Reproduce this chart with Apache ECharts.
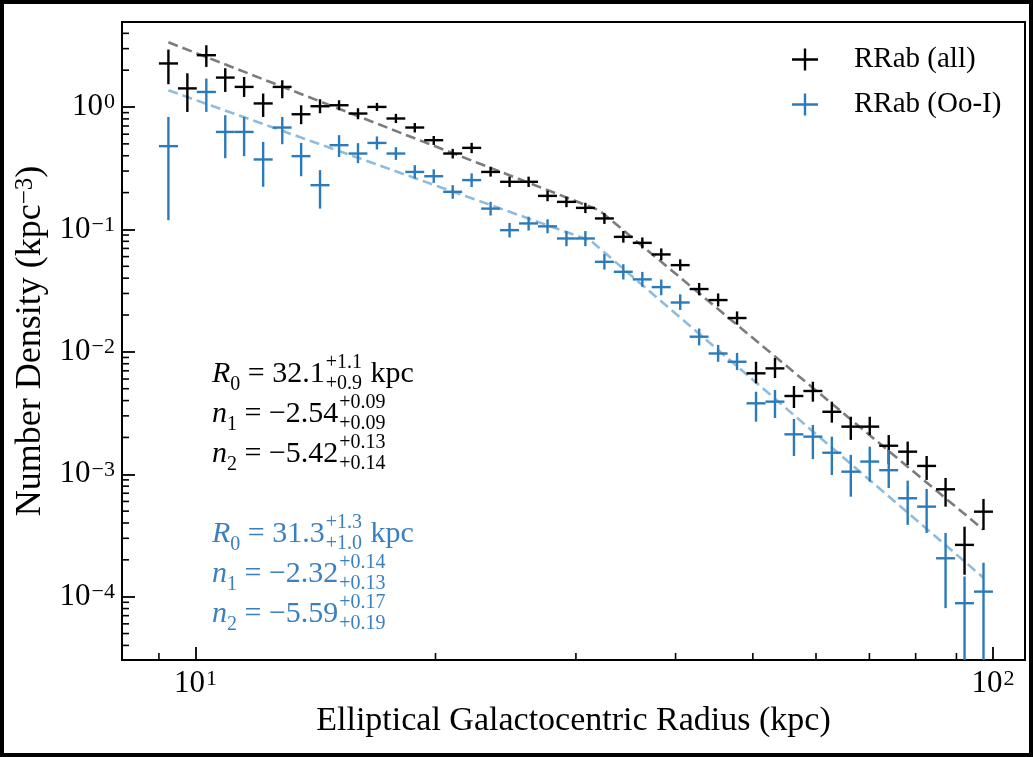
<!DOCTYPE html>
<html><head><meta charset="utf-8">
<script src="https://cdn.jsdelivr.net/npm/echarts@6/dist/echarts.min.js"></script>
<style>html,body{margin:0;padding:0;background:#000;}#c{width:1033px;height:757px;}</style>
</head><body><div id="c"></div>
<script>
// ---------------- data ----------------
const radius = [9.25, 9.77, 10.32, 10.90, 11.51, 12.16, 12.85, 13.57, 14.33, 15.14, 15.99, 16.89, 17.84, 18.84, 19.90, 21.02, 22.20, 23.45, 24.77, 26.17, 27.64, 29.19, 30.83, 32.57, 34.40, 36.34, 38.38, 40.54, 42.82, 45.23, 47.77, 50.46, 53.30, 56.30, 59.46, 62.81, 66.34, 70.07, 74.02, 78.18, 82.58, 87.22, 92.13, 97.31];
const binEdges = [9.00, 9.51, 10.04, 10.61, 11.20, 11.83, 12.50, 13.20, 13.94, 14.73, 15.56, 16.43, 17.36, 18.33, 19.36, 20.45, 21.60, 22.82, 24.10, 25.46, 26.89, 28.40, 30.00, 31.69, 33.47, 35.35, 37.34, 39.44, 41.66, 44.00, 46.48, 49.09, 51.86, 54.77, 57.85, 61.11, 64.55, 68.18, 72.01, 76.06, 80.34, 84.86, 89.63, 94.67, 100.0];
const allDensity = [2.27, 1.42, 2.65, 1.74, 1.46, 1.07, 1.46, 0.873, 1.015, 1.034, 0.885, 1.002, 0.806, 0.680, 0.536, 0.417, 0.464, 0.295, 0.245, 0.245, 0.188, 0.168, 0.150, 0.123, 0.0870, 0.0777, 0.0625, 0.0511, 0.0326, 0.0265, 0.0189, 0.00668, 0.00733, 0.00436, 0.00479, 0.00324, 0.00245, 0.00245, 0.00171, 0.00153, 0.00117, 0.000754, 0.000265, 0.000495];
const allLow = [1.535, 0.912, 2.125, 1.328, 1.209, 0.830, 1.180, 0.724, 0.890, 0.942, 0.795, 0.93, 0.74, 0.62, 0.49, 0.38, 0.42, 0.27, 0.222, 0.222, 0.17, 0.152, 0.136, 0.111, 0.078, 0.070, 0.056, 0.046, 0.029, 0.0235, 0.0167, 0.00553, 0.00611, 0.00348, 0.00392, 0.00264, 0.00191, 0.00209, 0.00121, 0.00119, 0.000899, 0.000544, 0.000151, 0.000351];
const allHigh = [2.948, 1.887, 3.195, 2.074, 1.761, 1.289, 1.655, 1.034, 1.158, 1.136, 0.978, 1.08, 0.88, 0.74, 0.58, 0.455, 0.51, 0.325, 0.27, 0.27, 0.207, 0.185, 0.165, 0.136, 0.097, 0.086, 0.070, 0.057, 0.0365, 0.030, 0.0214, 0.0083, 0.0089, 0.00526, 0.0057, 0.00392, 0.00295, 0.00295, 0.00209, 0.00185, 0.00141, 0.000933, 0.000373, 0.000629];
const ooDensity = [0.479, null, 1.328, 0.626, 0.626, 0.373, 0.680, 0.397, 0.230, 0.488, 0.417, 0.509, 0.417, 0.295, 0.272, 0.203, 0.253, 0.148, 0.0987, 0.112, 0.106, 0.0844, 0.0844, 0.0544, 0.0451, 0.0391, 0.0338, 0.0253, 0.0133, 0.0097, 0.0083, 0.0038, 0.00392, 0.00212, 0.00203, 0.0015, 0.00105, 0.00127, 0.00108, 0.000637, 0.000544, 0.000206, 0.0000885, 0.00011];
const ooLow = [0.119, null, 0.912, 0.382, 0.397, 0.223, 0.497, 0.272, 0.148, 0.391, 0.348, 0.45, 0.37, 0.26, 0.24, 0.178, 0.222, 0.13, 0.086, 0.098, 0.093, 0.073, 0.073, 0.047, 0.039, 0.034, 0.029, 0.022, 0.0113, 0.0083, 0.0071, 0.00269, 0.00288, 0.00141, 0.00133, 0.000987, 0.000656, 0.00087, 0.000773, 0.000386, 0.000332, 0.0000806, 0.000001, 0.000001];
const ooHigh = [0.830, null, 1.708, 0.857, 0.830, 0.519, 0.830, 0.509, 0.305, 0.589, 0.507, 0.575, 0.47, 0.335, 0.31, 0.23, 0.287, 0.168, 0.113, 0.127, 0.121, 0.097, 0.097, 0.063, 0.052, 0.045, 0.039, 0.0295, 0.0155, 0.0114, 0.0098, 0.00472, 0.00488, 0.00283, 0.00253, 0.00203, 0.00144, 0.00168, 0.00158, 0.000887, 0.000759, 0.000332, 0.000146, 0.000189];
// broken power-law fits: start, break radius, end
const allFitR = [9.25, 32.1, 97.31];
const allFitD = [3.38, 0.1433, 0.000352];
const ooFitR = [9.25, 31.3, 97.31];
const ooFitD = [1.37, 0.0810, 0.000143];
// axes
const xRange = [8.09, 109.7];
const yRange = [3.04e-5, 4.95];
const xMinorTicks = [9, 20, 30, 40, 50, 60, 70, 80, 90];
const yMinorTicks = [];
[-5, -4, -3, -2, -1, 0].forEach(function (k) {
  [2, 3, 4, 5, 6, 7, 8, 9].forEach(function (m) {
    const v = m * Math.pow(10, k);
    if (v > yRange[0] && v < yRange[1]) yMinorTicks.push(v);
  });
});
const seriesNames = ['RRab (all)', 'RRab (Oo-I)'];
const fitAll = {R0: '32.1', R0p: '+1.1', R0m: '+0.9', n1: '−2.54', n1p: '+0.09', n1m: '+0.09', n2: '−5.42', n2p: '+0.13', n2m: '+0.14'};
const fitOo = {R0: '31.3', R0p: '+1.3', R0m: '+1.0', n1: '−2.32', n1p: '+0.14', n1m: '+0.13', n2: '−5.59', n2p: '+0.17', n2m: '+0.19'};

// ---------------- styling ----------------
const FONT = '"Liberation Serif", "Times New Roman", serif';
const BLACK = '#000000';
const BLUE = '#2b7bba';
const BLUE_TEXT = '#3a80c0';
const GRAY_FIT = '#7c7c7c';
const BLUE_FIT = '#8fbbdc';

function errData(d, lo, hi) {
  const out = [];
  for (let i = 0; i < radius.length; i++) {
    if (d[i] == null) continue;
    out.push([radius[i], d[i], lo[i], hi[i], binEdges[i], binEdges[i + 1]]);
  }
  return out;
}
function errRender(color) {
  return function (params, api) {
    const x = api.value(0), y = api.value(1);
    const p = api.coord([x, y]);
    const lo = api.coord([x, api.value(2)]);
    const hi = api.coord([x, api.value(3)]);
    const l = api.coord([api.value(4), y]);
    const r = api.coord([api.value(5), y]);
    return {
      type: 'group', children: [
        {type: 'line', shape: {x1: p[0], y1: lo[1], x2: p[0], y2: hi[1]}, style: {stroke: color, lineWidth: 2.4}},
        {type: 'line', shape: {x1: l[0], y1: p[1], x2: r[0], y2: p[1]}, style: {stroke: color, lineWidth: 2.4}}
      ]
    };
  };
}
function minorRender(isX) {
  return function (params, api) {
    const cs = params.coordSys;
    const p = api.coord([api.value(0), api.value(1)]);
    if (isX) return {type: 'line', shape: {x1: p[0], y1: cs.y + cs.height, x2: p[0], y2: cs.y + cs.height - 7}, style: {stroke: '#000', lineWidth: 1.6}};
    return {type: 'line', shape: {x1: cs.x, y1: p[1], x2: cs.x + 7, y2: p[1]}, style: {stroke: '#000', lineWidth: 1.6}};
  };
}
function powLabel(v) {
  const lg = Math.log10(v);
  const e = Math.round(lg);
  if (Math.abs(lg - e) > 1e-6) return '';
  return '{b|10}{s|' + (e < 0 ? '−' + (-e) : e) + '}';
}
const tickRich = {
  b: {fontFamily: FONT, fontSize: 31, color: '#000'},
  s: {fontFamily: FONT, fontSize: 22, color: '#000', verticalAlign: 'top', padding: [0, 0, 0, 1]}
};

// math annotations built as text pieces
const mctx = document.createElement('canvas').getContext('2d');
function tw(t, f) { mctx.font = f; return mctx.measureText(t).width; }
function mathLine(x, base, segs, color) {
  const els = [];
  let cx = x;
  const MS = 30, SS = 20;
  segs.forEach(function (s) {
    if (s.sup !== undefined) {
      const f = SS + 'px ' + FONT;
      els.push({type: 'text', x: cx + 1, y: base - 10, style: {text: s.sup, font: f, fill: color, textAlign: 'left', textVerticalAlign: 'bottom'}});
      els.push({type: 'text', x: cx + 1, y: base + 11, style: {text: s.sub, font: f, fill: color, textAlign: 'left', textVerticalAlign: 'bottom'}});
      cx += Math.max(tw(s.sup, f), tw(s.sub, f)) + 2;
    } else {
      const size = s.small ? SS : MS;
      const f = (s.italic ? 'italic ' : '') + size + 'px ' + FONT;
      const dy = s.small ? 7 : 0;
      els.push({type: 'text', x: cx, y: base + dy + 0.22 * size, style: {text: s.t, font: f, fill: color, textAlign: 'left', textVerticalAlign: 'bottom'}});
      cx += tw(s.t, f);
    }
  });
  return els;
}
function fitBlock(fit, y0, color) {
  const gap = 40;
  return [].concat(
    mathLine(212, y0, [{t: 'R', italic: true}, {t: '0', small: true}, {t: ' = ' + fit.R0}, {sup: fit.R0p, sub: fit.R0m}, {t: ' kpc'}], color),
    mathLine(212, y0 + gap, [{t: 'n', italic: true}, {t: '1', small: true}, {t: ' = ' + fit.n1}, {sup: fit.n1p, sub: fit.n1m}], color),
    mathLine(212, y0 + 2 * gap, [{t: 'n', italic: true}, {t: '2', small: true}, {t: ' = ' + fit.n2}, {sup: fit.n2p, sub: fit.n2m}], color)
  );
}

const plusIcon = 'path://M0,9.8H11.8V0H14.2V9.8H26V12.2H14.2V22H11.8V12.2H0Z';

const chart = echarts.init(document.getElementById('c'), null, {renderer: 'canvas'});
chart.setOption({
  animation: false,
  backgroundColor: '#ffffff',
  grid: {left: 122, right: 8, top: 22, bottom: 97, show: true, borderColor: '#000', borderWidth: 2, backgroundColor: 'transparent'},
  legend: {
    data: seriesNames, orient: 'vertical', left: 787, top: 40, itemWidth: 26, itemHeight: 22, itemGap: 16,
    icon: plusIcon,
    textStyle: {fontFamily: FONT, fontSize: 29, color: '#000', padding: [0, 0, 0, 31]}
  },
  xAxis: {
    type: 'log', logBase: 10, min: xRange[0], max: xRange[1],
    name: 'Elliptical Galactocentric Radius (kpc)', nameLocation: 'middle', nameGap: 44,
    nameTextStyle: {fontFamily: FONT, fontSize: 34, color: '#000'},
    axisLine: {show: true, lineStyle: {color: '#000', width: 2}},
    axisTick: {show: true, inside: true, length: 13, lineStyle: {color: '#000', width: 1.8}},
    axisLabel: {formatter: powLabel, rich: tickRich, margin: 8},
    splitLine: {show: false}, minorTick: {show: false}
  },
  yAxis: {
    type: 'log', logBase: 10, min: yRange[0], max: yRange[1],
    name: '{a|Number Density (kpc}{s|−3}{a|)}', nameLocation: 'middle', nameGap: 72, nameRotate: 90,
    nameTextStyle: {rich: {a: {fontFamily: FONT, fontSize: 36, color: '#000'}, s: {fontFamily: FONT, fontSize: 25, color: '#000', verticalAlign: 'top'}}},
    axisLine: {show: true, lineStyle: {color: '#000', width: 2}},
    axisTick: {show: true, inside: true, length: 13, lineStyle: {color: '#000', width: 1.8}},
    axisLabel: {formatter: powLabel, rich: tickRich, margin: 7},
    splitLine: {show: false}, minorTick: {show: false}
  },
  series: [
    {name: 'allFit', type: 'line', data: allFitR.map(function (r, i) { return [r, allFitD[i]]; }), showSymbol: false, symbol: 'none', silent: true, z: 1,
      lineStyle: {color: GRAY_FIT, width: 2.6, type: [10, 5]}},
    {name: 'ooFit', type: 'line', data: ooFitR.map(function (r, i) { return [r, ooFitD[i]]; }), showSymbol: false, symbol: 'none', silent: true, z: 1,
      lineStyle: {color: BLUE_FIT, width: 2.6, type: [10, 5]}},
    {name: seriesNames[0], type: 'custom', renderItem: errRender(BLACK), data: errData(allDensity, allLow, allHigh), clip: true, z: 3,
      itemStyle: {color: BLACK}, encode: {x: 0, y: 1}},
    {name: seriesNames[1], type: 'custom', renderItem: errRender(BLUE), data: errData(ooDensity, ooLow, ooHigh), clip: true, z: 4,
      itemStyle: {color: BLUE}, encode: {x: 0, y: 1}},
    {name: 'xminor', type: 'custom', renderItem: minorRender(true), data: xMinorTicks.map(function (v) { return [v, 1]; }), silent: true, z: 5, encode: {x: 0, y: 1}},
    {name: 'yminor', type: 'custom', renderItem: minorRender(false), data: yMinorTicks.map(function (v) { return [10, v]; }), silent: true, z: 5, encode: {x: 0, y: 1}}
  ],
  graphic: [].concat(
    fitBlock(fitAll, 383, '#000'),
    fitBlock(fitOo, 543, BLUE_TEXT),
    [{type: 'rect', shape: {x: 0, y: 0, width: 1033, height: 757}, style: {fill: 'none', stroke: '#000', lineWidth: 8}, silent: true, z: 100}]
  )
});
</script></body></html>
